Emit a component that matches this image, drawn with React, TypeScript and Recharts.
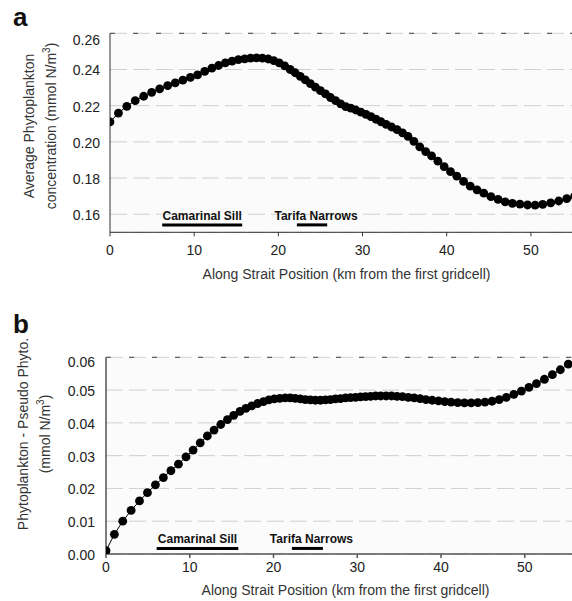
import { LineChart, Line, XAxis, YAxis, CartesianGrid, ReferenceLine } from 'recharts';

// along-strait gridcell positions (km from the first gridcell)
const positions = [
  0, 1.0, 2.0, 3.0, 4.0, 4.95, 5.9, 6.85, 7.75, 8.65, 9.55, 10.4, 11.25, 12.1, 12.9, 13.7, 14.5, 15.25, 16.0, 16.7,
  17.4, 18.1, 18.8, 19.45, 20.1, 20.75, 21.4, 22.0, 22.6, 23.2, 23.8, 24.4, 25.0, 25.6, 26.2, 26.8, 27.4, 28.0, 28.6,
  29.2, 29.8, 30.4, 31.0, 31.6, 32.2, 32.8, 33.45, 34.1, 34.75, 35.4, 36.1, 36.8, 37.5, 38.2, 38.95, 39.7, 40.45, 41.2,
  42.0, 42.8, 43.6, 44.4, 45.25, 46.1, 46.95, 47.8, 48.7, 49.6, 50.5, 51.4, 52.35, 53.3, 54.25, 55.2,
];

// (a) average phytoplankton concentration, mmol N/m3
const avgPhyto = [
  0.211, 0.2159, 0.2196, 0.2228, 0.2252, 0.2274, 0.2293, 0.2311, 0.2326, 0.2341, 0.2356, 0.237, 0.2389, 0.2407, 0.2422,
  0.2436, 0.2446, 0.2454, 0.2459, 0.2463, 0.2464, 0.2463, 0.2458, 0.2449, 0.2436, 0.242, 0.24, 0.2382, 0.2362, 0.2342,
  0.2322, 0.2302, 0.2283, 0.2265, 0.2245, 0.2228, 0.221, 0.2195, 0.2186, 0.2176, 0.2164, 0.2152, 0.2139, 0.2125, 0.2111,
  0.2097, 0.2082, 0.2067, 0.205, 0.203, 0.2003, 0.1972, 0.1946, 0.1922, 0.1893, 0.1863, 0.1835, 0.181, 0.1781, 0.1755,
  0.1735, 0.1716, 0.1697, 0.1682, 0.1668, 0.166, 0.1656, 0.1651, 0.165, 0.1654, 0.1663, 0.1673, 0.1686, 0.17,
];

// (b) phytoplankton minus pseudo phytoplankton, mmol N/m3
const phytoMinusPseudo = [
  0.001, 0.006, 0.01, 0.0133, 0.0162, 0.0187, 0.0211, 0.0233, 0.0254, 0.0274, 0.0296, 0.0317, 0.0339, 0.036, 0.0378,
  0.0395, 0.041, 0.0423, 0.0435, 0.0444, 0.0452, 0.0459, 0.0465, 0.047, 0.0473, 0.0475, 0.0476, 0.0476, 0.0475, 0.0473,
  0.0471, 0.047, 0.0469, 0.0469, 0.047, 0.0471, 0.0473, 0.0474, 0.0476, 0.0477, 0.0478, 0.0479, 0.048, 0.0481, 0.0482,
  0.0482, 0.0482, 0.0482, 0.0481, 0.048, 0.0478, 0.0476, 0.0474, 0.0471, 0.0469, 0.0467, 0.0465, 0.0463, 0.0462, 0.0461,
  0.0461, 0.0462, 0.0463, 0.0466, 0.0471, 0.0478, 0.0487, 0.0497, 0.0508, 0.052, 0.0533, 0.0547, 0.0562, 0.0579,
];

const kmTicks = [0, 10, 20, 30, 40, 50];
const avgTicks = [0.16, 0.18, 0.2, 0.22, 0.24, 0.26];
const diffTicks = [0, 0.01, 0.02, 0.03, 0.04, 0.05, 0.06];

// topographic features marked under each curve (km ranges)
const sillRangeA = [6.2, 15.7];
const narrowsRangeA = [22.2, 25.8];
const sillRangeB = [6.05, 15.8];
const narrowsRangeB = [22.2, 25.9];

const rowsA = positions.map((km, i) => ({ km, value: avgPhyto[i] }));
const rowsB = positions.map((km, i) => ({ km, value: phytoMinusPseudo[i] }));

const FONT = "'Liberation Sans', Arial, sans-serif";
const xTitle = 'Along Strait Position (km from the first gridcell)';

const YTick = (props: any) => {
  const { x, y, payload, top, shift } = props;
  const dy = payload.value === top ? shift : 1;
  return (
    <text x={x} y={y + dy} dy="0.35em" textAnchor="end" fontSize={14} fill="#222" fontFamily={FONT}>
      {payload.value.toFixed(2)}
    </text>
  );
};

const featureLabel = (value: string, dx = 0) => ({
  value,
  position: 'top' as const,
  offset: 5,
  dx,
  fill: '#111',
  fontSize: 12,
  fontWeight: 700,
  fontFamily: FONT,
});

const YTitle = ({ lines, cx, cy }: { lines: React.ReactNode[]; cx: number; cy: number }) => (
  <div
    style={{
      position: 'absolute',
      left: cx - 150,
      top: cy - 25,
      width: 300,
      height: 50,
      display: 'flex',
      flexDirection: 'column',
      justifyContent: 'center',
      alignItems: 'center',
      transform: 'rotate(-90deg)',
      fontFamily: FONT,
      fontSize: 14,
      lineHeight: '22px',
      color: '#333',
      whiteSpace: 'nowrap',
    }}
  >
    {lines.map((l, i) => (
      <div key={i}>{l}</div>
    ))}
  </div>
);

const sup3 = <span style={{ fontSize: 10, verticalAlign: 'super', lineHeight: 0 }}>3</span>;

const panelLetter = { position: 'absolute' as const, left: 13, fontFamily: FONT, fontWeight: 700, fontSize: 26, color: '#111' };

export default function App() {
  return (
    <div style={{ position: 'relative', width: 572, height: 601, overflow: 'hidden', background: '#fff' }}>
      <style>{'body{margin:0}'}</style>

      <div style={{ ...panelLetter, top: 2 }}>a</div>
      <div style={{ ...panelLetter, top: 309 }}>b</div>

      <div style={{ position: 'absolute', left: 0, top: 0 }}>
        <LineChart width={573} height={292} data={rowsA} margin={{ top: 33.3, right: 0, bottom: 0, left: 0 }}>
          <CartesianGrid vertical={false} stroke="#cfcfcf" strokeDasharray="17 6" fill="#fbfbfb" />
          <ReferenceLine y={0.26} stroke="#444" strokeDasharray="5 18" />
          <XAxis
            dataKey="km"
            type="number"
            domain={[0, 55]}
            ticks={kmTicks}
            allowDataOverflow
            height={59.7}
            stroke="#333"
            tickSize={4}
            tickMargin={8.7}
            tick={{ fill: '#222', fontSize: 14, fontFamily: FONT }}
            label={{ value: xTitle, position: 'insideBottom', offset: 13, dx: 5, fill: '#333', fontSize: 14, fontFamily: FONT }}
          />
          <YAxis
            type="number"
            domain={[0.15, 0.26]}
            ticks={avgTicks}
            allowDataOverflow
            width={110}
            stroke="#333"
            tickLine={false}
            tickSize={0}
            tickMargin={10}
            tick={(p: any) => <YTick {...p} top={0.26} shift={7} />}
          />
          <ReferenceLine
            segment={[{ x: sillRangeA[0], y: 0.1541 }, { x: sillRangeA[1], y: 0.1541 }]}
            stroke="#000"
            strokeWidth={3}
            label={featureLabel('Camarinal Sill')}
          />
          <ReferenceLine
            segment={[{ x: narrowsRangeA[0], y: 0.1541 }, { x: narrowsRangeA[1], y: 0.1541 }]}
            stroke="#000"
            strokeWidth={3}
            label={featureLabel('Tarifa Narrows', 4)}
          />
          <Line
            dataKey="value"
            type="linear"
            stroke="#000"
            strokeWidth={1}
            dot={{ r: 4.4, fill: '#000', stroke: 'none' }}
            isAnimationActive={false}
          />
        </LineChart>
      </div>

      <div style={{ position: 'absolute', left: 0, top: 300 }}>
        <LineChart width={575} height={310} data={rowsB} margin={{ top: 57.3, right: 0, bottom: 0, left: 0 }}>
          <CartesianGrid vertical={false} stroke="#cfcfcf" strokeDasharray="17 6" fill="#fbfbfb" />
          <ReferenceLine y={0.06} stroke="#444" strokeDasharray="5 18" />
          <XAxis
            dataKey="km"
            type="number"
            domain={[0, 56]}
            ticks={kmTicks}
            allowDataOverflow
            height={56}
            stroke="#555"
            strokeWidth={1.5}
            tickSize={4}
            tickMargin={3.7}
            tick={{ fill: '#222', fontSize: 14, fontFamily: FONT }}
            label={{ value: xTitle, position: 'insideBottom', offset: 15, dx: 5, fill: '#333', fontSize: 14, fontFamily: FONT }}
          />
          <YAxis
            type="number"
            domain={[0, 0.06]}
            ticks={diffTicks}
            allowDataOverflow
            width={106}
            stroke="#555"
            strokeWidth={1.5}
            tickLine={false}
            tickSize={0}
            tickMargin={11}
            tick={(p: any) => <YTick {...p} top={0.06} shift={4.4} />}
          />
          <ReferenceLine
            segment={[{ x: sillRangeB[0], y: 0.0017 }, { x: sillRangeB[1], y: 0.0017 }]}
            stroke="#000"
            strokeWidth={3}
            label={featureLabel('Camarinal Sill')}
          />
          <ReferenceLine
            segment={[{ x: narrowsRangeB[0], y: 0.0017 }, { x: narrowsRangeB[1], y: 0.0017 }]}
            stroke="#000"
            strokeWidth={3}
            label={featureLabel('Tarifa Narrows', 4)}
          />
          <Line
            dataKey="value"
            type="linear"
            stroke="#000"
            strokeWidth={1}
            dot={{ r: 4.4, fill: '#000', stroke: 'none' }}
            isAnimationActive={false}
          />
        </LineChart>
      </div>

      <YTitle cx={40} cy={126} lines={['Average Phytoplankton', <>concentration (mmol N/m{sup3})</>]} />
      <YTitle cx={34} cy={434} lines={['Phytoplankton - Pseudo Phyto.', <>(mmol N/m{sup3})</>]} />
    </div>
  );
}
